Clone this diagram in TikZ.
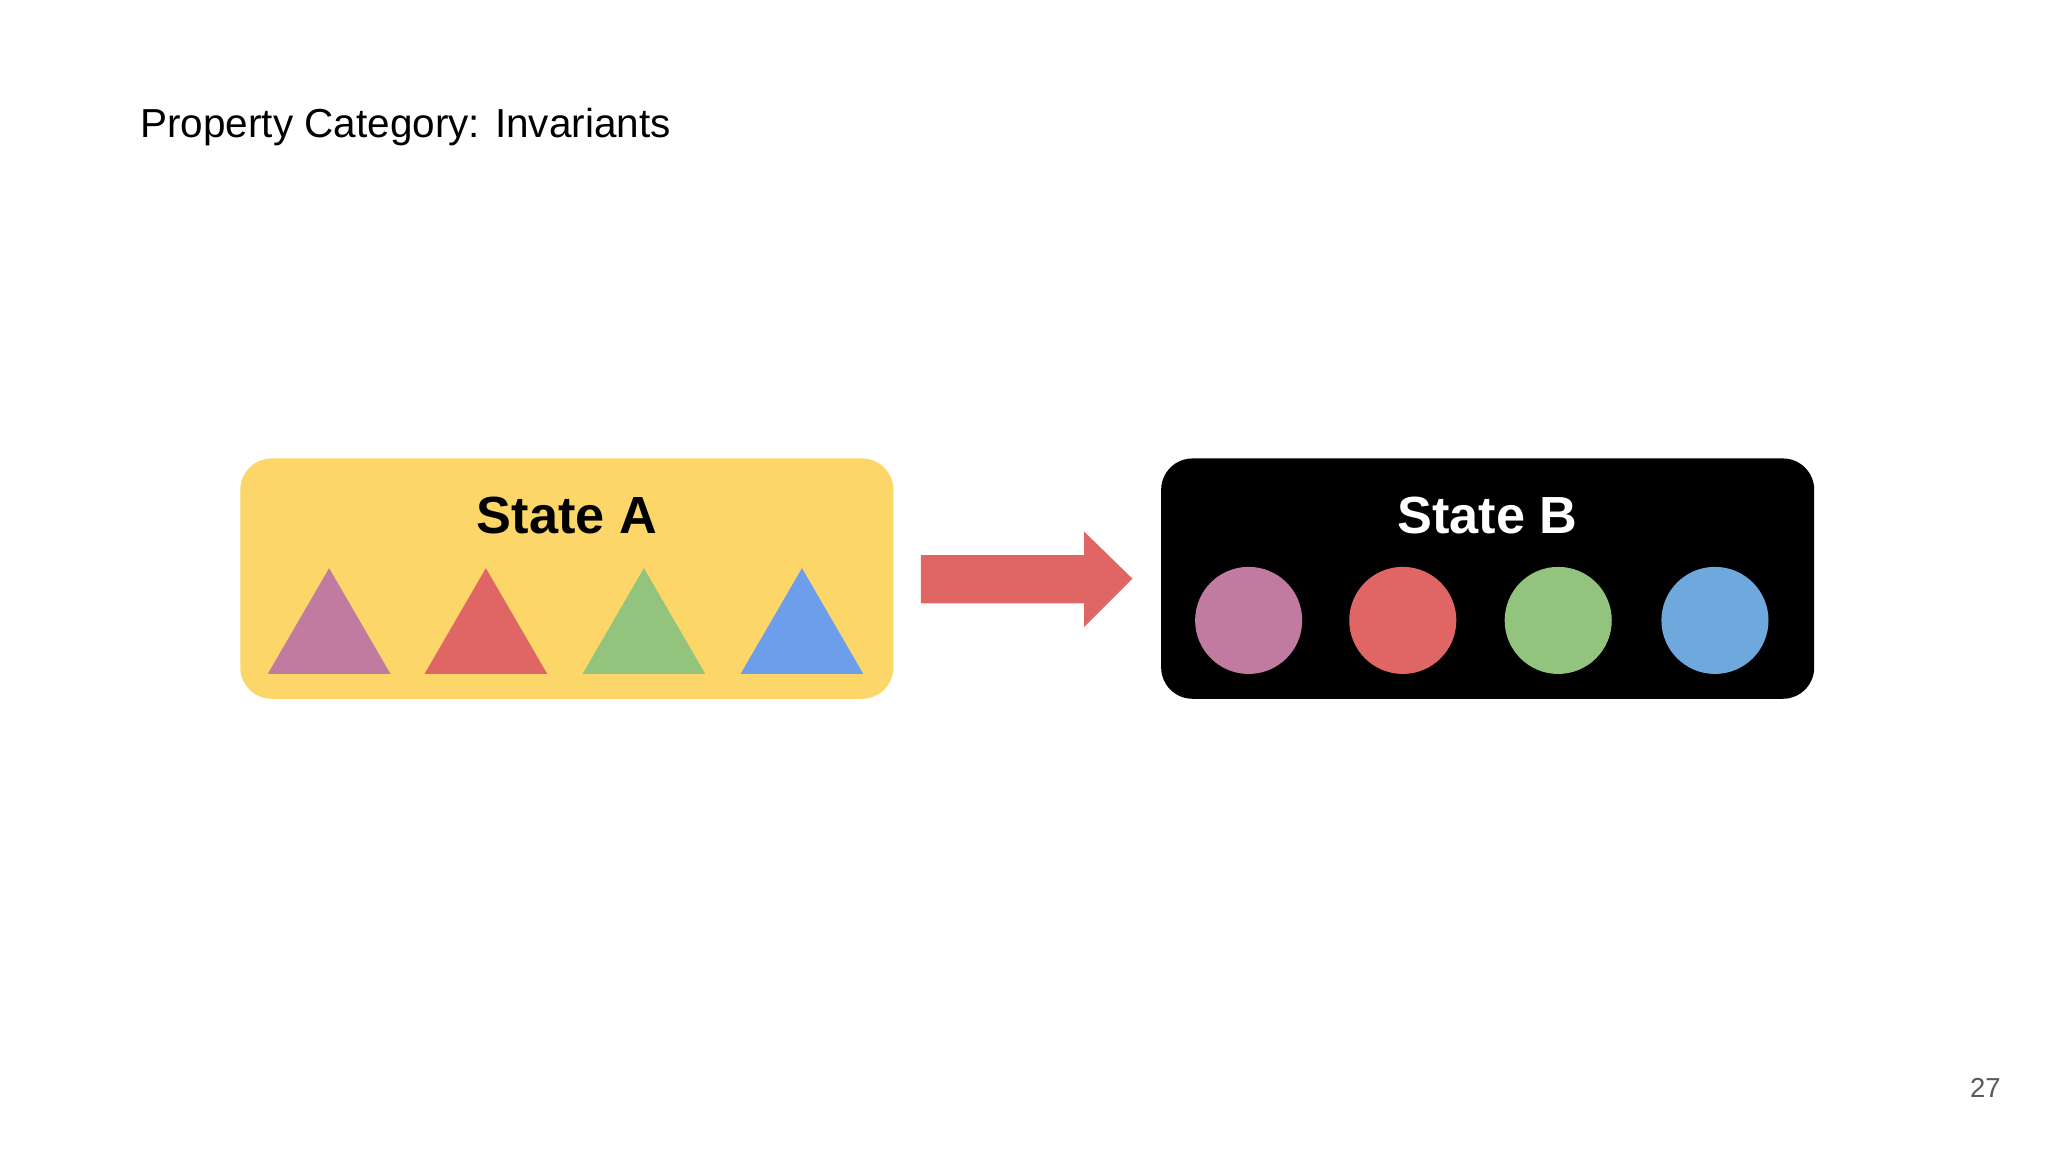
\documentclass[tikz,border=0pt]{standalone}
\usepackage{fontspec}
\setmainfont{Liberation Sans}
\begin{document}
\begin{tikzpicture}[x=0.5pt,y=-0.5pt,
  statebox/.style={rounded corners=12pt},
  statelabel/.style={font=\fontsize{20}{24}\selectfont\bfseries},
  tri/.style={draw=none},
  dot/.style={circle,minimum size=41pt,inner sep=0pt}]
\definecolor{yel}{HTML}{FCD668}
\definecolor{pur}{HTML}{C27BA0}
\definecolor{rd}{HTML}{E06666}
\definecolor{grn}{HTML}{93C47D}
\definecolor{blu}{HTML}{6D9EEB}
\definecolor{blu2}{HTML}{6FA8DC}
\useasboundingbox (0,0) rectangle (1568,882);
\node[anchor=base west,font=\fontsize{15.5}{18}\selectfont,inner sep=0] (title) at (107,105) {Property Category: Invariants};
\fill[yel,statebox] (184,351) rectangle (684,535);
\node[statelabel] (la) at (434,395) {State A};
\foreach \x/\c in {252/pur,372/rd,493/grn,614/blu}
  \fill[\c] (\x-47,516) -- (\x,435) -- (\x+47,516) -- cycle;
\fill[rd] (705,425) -- (830,425) -- (830,407) -- (867,443) -- (830,480) -- (830,462) -- (705,462) -- cycle;
\fill[black,statebox] (889,351) rectangle (1389,535);
\node[statelabel,text=white] (lb) at (1139,395) {State B};
\foreach \x/\c [count=\i] in {956/pur,1074/rd,1193/grn,1313/blu2}
  \node[dot,fill=\c] (c\i) at (\x,475) {};
\node[font=\fontsize{10.5}{12}\selectfont,text=black!65] (pg) at (1520,833) {27};
\end{tikzpicture}
\end{document}
